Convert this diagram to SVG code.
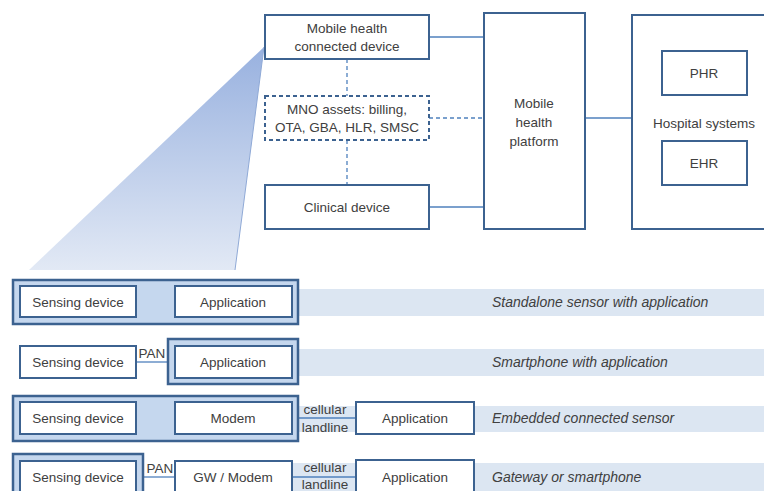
<svg xmlns="http://www.w3.org/2000/svg" width="764" height="491" viewBox="0 0 764 491">
  <defs>
    <linearGradient id="zoomGrad" x1="0" y1="0" x2="0" y2="1">
      <stop offset="0" stop-color="#98b1df"/>
      <stop offset="1" stop-color="#e2e9f5"/>
    </linearGradient>
  </defs>
  <style>
    text { font-family: "Liberation Sans", Arial, sans-serif; font-size: 13.5px; fill: #404040; text-anchor: middle; }
    .it { font-style: italic; font-size: 14px; text-anchor: start; }
    .box { fill: #ffffff; stroke: #3c6290; stroke-width: 2; }
    .dbox { fill: #ffffff; stroke: #3c6290; stroke-width: 2; stroke-dasharray: 4 3; }
    .outer { fill: #c5d7ee; stroke: #3c6290; stroke-width: 2.5; }
    .band { fill: #dce6f2; }
    .ln { stroke: #4f81bd; stroke-width: 1.3; fill: none; }
    .dl { stroke: #4f81bd; stroke-width: 1.3; fill: none; stroke-dasharray: 4 3; }
  </style>
  <rect width="764" height="491" fill="#ffffff"/>

  <!-- zoom wedge from the connected device down to the device rows -->
  <polygon points="264,47 29,270 235,270" fill="url(#zoomGrad)"/>
  <line x1="264" y1="47" x2="235" y2="270" stroke="#8fa9d6" stroke-width="1"/>

  <!-- background bands of each device row -->
  <rect class="band" x="297" y="289" width="467" height="27"/>
  <rect class="band" x="297" y="349" width="467" height="27"/>
  <rect class="band" x="297" y="406" width="467" height="26"/>
  <rect class="band" x="291" y="463" width="473" height="28"/>

  <!-- connectors -->
  <g id="connectors">
    <line class="ln" x1="429" y1="37" x2="484" y2="37"/>
    <line class="dl" x1="429" y1="118" x2="484" y2="118"/>
    <line class="ln" x1="429" y1="207" x2="484" y2="207"/>
    <line class="ln" x1="585" y1="118" x2="632" y2="118"/>
    <line class="dl" x1="347" y1="59" x2="347" y2="96"/>
    <line class="dl" x1="347" y1="140" x2="347" y2="184"/>
    <line class="ln" x1="136" y1="302" x2="175" y2="302"/>
    <line class="ln" x1="136" y1="362" x2="168" y2="362"/>
    <line class="ln" x1="136" y1="418" x2="175" y2="418"/>
    <line class="ln" x1="298" y1="418" x2="356" y2="418"/>
    <line class="ln" x1="143" y1="477" x2="175" y2="477"/>
    <line class="ln" x1="292" y1="477" x2="356" y2="477"/>
  </g>

  <!-- top architecture -->
  <g id="connected-device">
    <rect class="box" x="265" y="15" width="164" height="44"/>
    <text x="347" y="33">Mobile health</text>
    <text x="347" y="51">connected device</text>
  </g>
  <g id="mno-assets">
    <rect class="dbox" x="265" y="96" width="164" height="44"/>
    <text x="347" y="114">MNO assets: billing,</text>
    <text x="347" y="132">OTA, GBA, HLR, SMSC</text>
  </g>
  <g id="clinical-device">
    <rect class="box" x="265" y="185" width="164" height="44"/>
    <text x="347" y="212">Clinical device</text>
  </g>
  <g id="platform">
    <rect class="box" x="484" y="13" width="101" height="216"/>
    <text x="534" y="108">Mobile</text>
    <text x="534" y="127">health</text>
    <text x="534" y="146">platform</text>
  </g>
  <g id="hospital">
    <rect class="box" x="632" y="15" width="140" height="214"/>
    <text x="704" y="128">Hospital systems</text>
  </g>
  <g id="phr">
    <rect class="box" x="662" y="51" width="85" height="44"/>
    <text x="704" y="78">PHR</text>
  </g>
  <g id="ehr">
    <rect class="box" x="662" y="141" width="85" height="44"/>
    <text x="704" y="168">EHR</text>
  </g>

  <!-- row 1: standalone sensor -->
  <g id="row1">
    <rect class="outer" x="13" y="280" width="285" height="44"/>
    <rect class="box" x="20" y="286" width="116" height="31"/>
    <text x="78" y="307">Sensing device</text>
    <rect class="box" x="175" y="286" width="117" height="31"/>
    <text x="233" y="307">Application</text>
    <text class="it" x="492" y="307">Standalone sensor with application</text>
  </g>

  <!-- row 2: smartphone -->
  <g id="row2">
    <rect class="box" x="20" y="346" width="116" height="32"/>
    <text x="78" y="367">Sensing device</text>
    <text x="152" y="358">PAN</text>
    <rect class="outer" x="168" y="339" width="130" height="45"/>
    <rect class="box" x="175" y="346" width="117" height="32"/>
    <text x="233" y="367">Application</text>
    <text class="it" x="492" y="367">Smartphone with application</text>
  </g>

  <!-- row 3: embedded connected sensor -->
  <g id="row3">
    <rect class="outer" x="13" y="396" width="285" height="45"/>
    <rect class="box" x="20" y="402" width="116" height="32"/>
    <text x="78" y="423">Sensing device</text>
    <rect class="box" x="175" y="402" width="117" height="32"/>
    <text x="233" y="423">Modem</text>
    <text x="325" y="414">cellular</text>
    <text x="325" y="432">landline</text>
    <rect class="box" x="356" y="402" width="118" height="32"/>
    <text x="415" y="423">Application</text>
    <text class="it" x="492" y="423">Embedded connected sensor</text>
  </g>

  <!-- row 4: gateway -->
  <g id="row4">
    <rect class="outer" x="13" y="454" width="130" height="45"/>
    <rect class="box" x="20" y="461" width="116" height="40"/>
    <text x="78" y="482">Sensing device</text>
    <text x="160" y="473">PAN</text>
    <rect class="box" x="175" y="461" width="117" height="40"/>
    <text x="233" y="482">GW / Modem</text>
    <text x="325" y="472">cellular</text>
    <text x="325" y="489">landline</text>
    <rect class="box" x="356" y="460" width="118" height="40"/>
    <text x="415" y="482">Application</text>
    <text class="it" x="492" y="482">Gateway or smartphone</text>
  </g>
</svg>
